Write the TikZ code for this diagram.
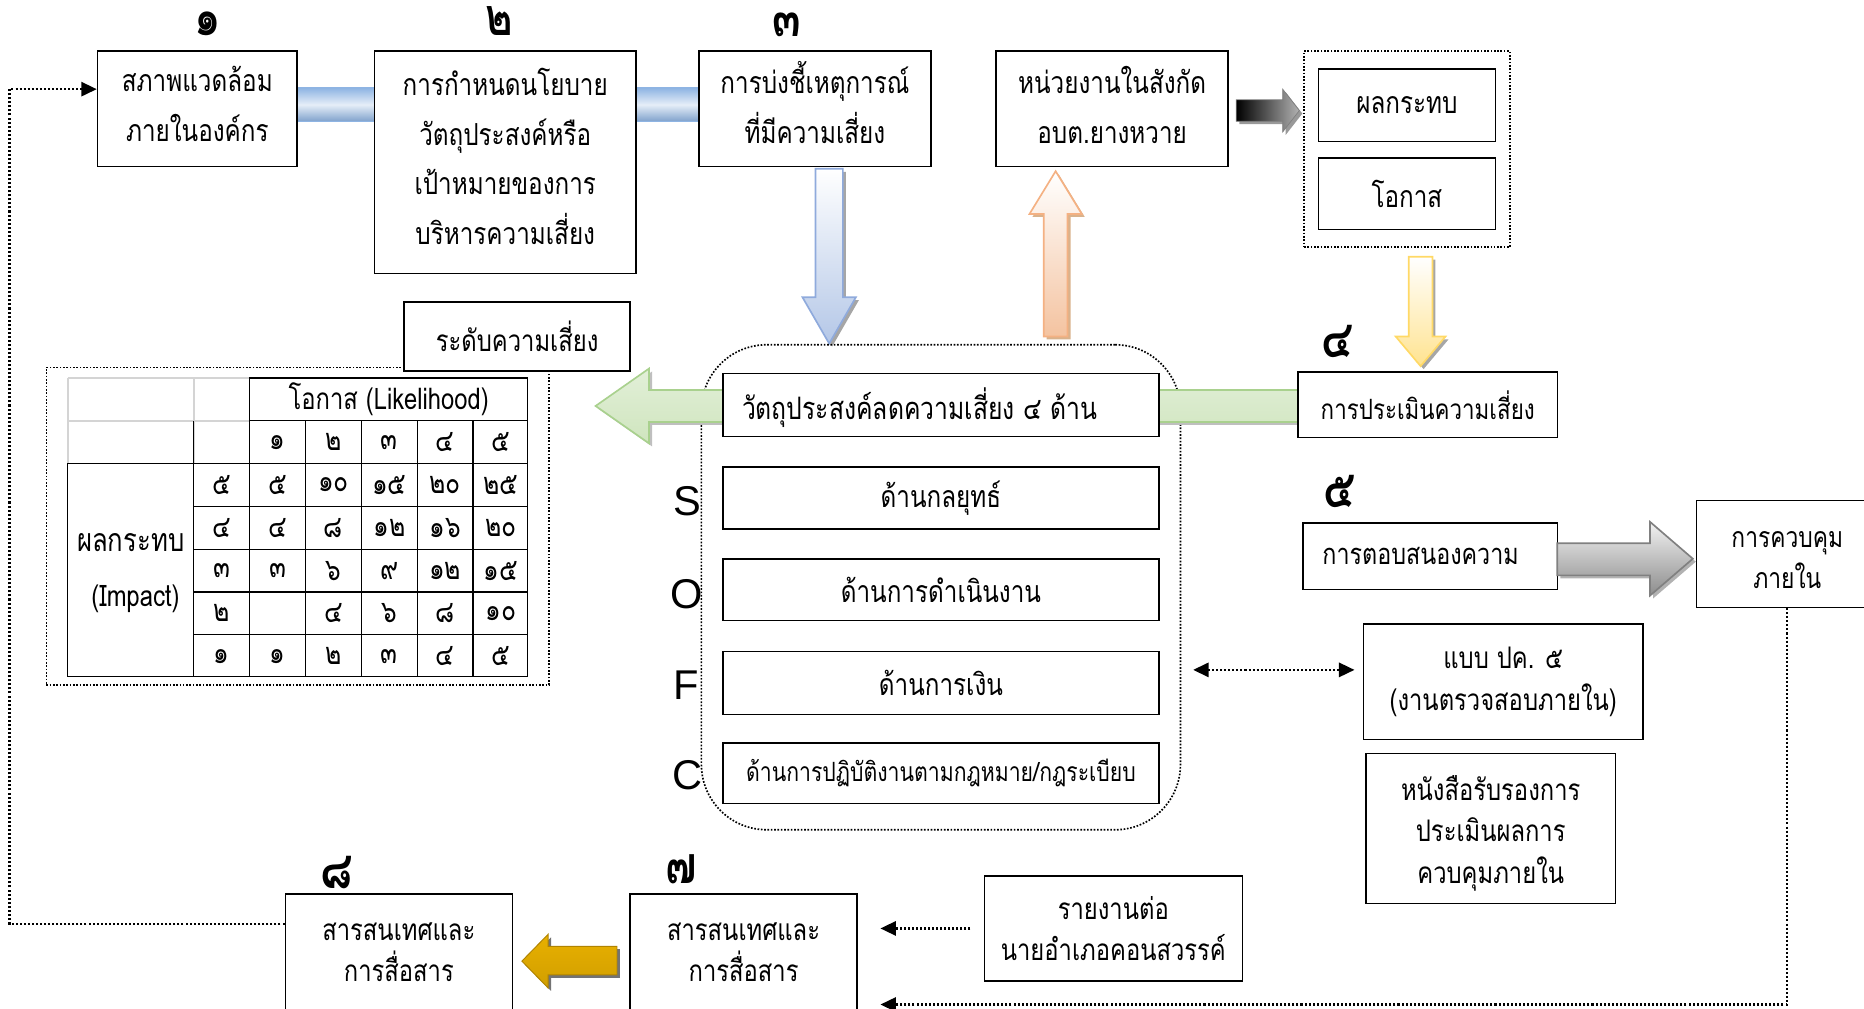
\documentclass[tikz,border=0pt]{standalone}
\usepackage{fontspec}
\setmainfont{Liberation Sans}
\newfontfamily\thai[Script=Thai,FakeStretch=0.8]{Loma}
\usetikzlibrary{arrows.meta,calc}
\definecolor{barE}{HTML}{8EB4E3}
\definecolor{barL}{HTML}{E6EEF8}
\definecolor{blueE}{HTML}{8FAADC}
\definecolor{blueF}{HTML}{B4C7E7}
\definecolor{oraE}{HTML}{F4B183}
\definecolor{oraF}{HTML}{F4C3A0}
\definecolor{yelE}{HTML}{FFD966}
\definecolor{yelF}{HTML}{FFE390}
\definecolor{grnE}{HTML}{A9D18E}
\definecolor{grnF}{HTML}{CFE5BE}
\definecolor{gold1}{HTML}{E8B000}
\definecolor{gold2}{HTML}{FFC60F}
\definecolor{gold3}{HTML}{B08300}
\definecolor{tgray}{HTML}{D4D4D4}
\begin{document}
\begin{tikzpicture}[x=1pt,y=-1pt,
  box/.style={draw=black,line width=1.3pt,fill=white,inner sep=0pt,align=center,
    font=\thai\fontsize{25.5}{42}\selectfont},
  sbox/.style={box,font=\thai\fontsize{25}{35}\selectfont},
  btext/.style={inner sep=0pt,align=center,font=\thai\fontsize{25}{35}\selectfont},
  numlbl/.style={font=\thai\bfseries\fontsize{44}{44}\selectfont,inner sep=0pt},
  letter/.style={font=\fontsize{35}{35}\selectfont,inner sep=0pt},
  dotframe/.style={draw=black,line width=1.4pt,dash pattern=on 1.4pt off 1.4pt},
  dotline/.style={draw=black,line width=1.8pt,dash pattern=on 1.7pt off 1.7pt},
  dotcon/.style={dotline,-{Triangle[length=13pt,width=12pt]}},
  dotboth/.style={dotline,{Triangle[length=13pt,width=12pt]}-{Triangle[length=13pt,width=12pt]}},
  tgrid/.style={draw=tgray,line width=1.6pt},
  tline/.style={draw=black,line width=1.1pt},
  tnum/.style={font=\thai\fontsize{26}{26}\selectfont,inner sep=0pt},
  thead/.style={font=\thai\fontsize{25}{25}\selectfont,inner sep=0pt},
  shad/.style={preaction={fill=#1,transform canvas={shift={(2.5pt,-2.5pt)}}}},
  blkline/.style={line width=1.4pt,line join=miter}
]
\useasboundingbox (0,0) rectangle (1568,848);
\clip (0,0) rectangle (1568,848);

% step numbers
\node[numlbl] (n1) at (175,20) {๑};
\node[numlbl] (n2) at (420,18) {๒};
\node[numlbl] (n3) at (662,21) {๓};
\node[numlbl] (n4) at (1125,287) {๔};
\node[numlbl] (n5) at (1127,413) {๕};
\node[numlbl] (n8) at (283,734) {๘};
\node[numlbl] (n7) at (573,731) {๗};

% light blue bars joining the first three steps
\path[draw=barE,line width=0.8pt,top color=barE,bottom color=barE!90!black,middle color=barL] (245,74) rectangle (320,102);
\path[draw=barE,line width=0.8pt,top color=barE,bottom color=barE!90!black,middle color=barL] (530,74) rectangle (593,102);

% top row of steps
\node[box,text depth=8pt,minimum width=168,minimum height=97] (b1) at (166,91.5) {สภาพแวดล้อม\\ภายในองค์กร};
\node[box,text depth=10pt,minimum width=220,minimum height=187] (b2) at (425,136.5) {การกำหนดนโยบาย\\วัตถุประสงค์หรือ\\เป้าหมายของการ\\บริหารความเสี่ยง};
\node[box,text depth=10pt,minimum width=195,minimum height=97] (b3) at (685.5,91.5) {การบ่งชี้เหตุการณ์\\ที่มีความเสี่ยง};
\node[box,text depth=6pt,minimum width=195,minimum height=97] (b4) at (935.5,91.5) {หน่วยงานในสังกัด\\อบต.ยางหวาย};

% impact and likelihood group
\node[dotframe,minimum width=173,minimum height=165,inner sep=0pt] (grp) at (1183.5,125.5) {};
\node[box,minimum width=149,minimum height=61] (imp) at (1183.5,88.5) {ผลกระทบ};
\node[box,minimum width=149,minimum height=60] (lik) at (1183.5,163) {โอกาส};

% dark arrow into the group
\path[shad=black!40,left color=black,right color=black!30,draw=black!50,line width=0.6pt]
  (1040,84) -- (1079,84) -- (1079,75) -- (1093,93) -- (1079,111) -- (1079,102) -- (1040,102) -- cycle;

% yellow arrow down to the assessment
\path[shad=black!35,blkline,draw=yelE,top color=white,bottom color=yelF]
  (1185,216) -- (1205,216) -- (1205,283) -- (1216,283) -- (1195,308) -- (1174,283) -- (1185,283) -- cycle;

% blue arrow down from step 3
\path[shad=black!35,blkline,draw=blueE,top color=white,bottom color=blueF]
  (686,142) -- (709,142) -- (709,250) -- (720,250) -- (697.5,289) -- (675,250) -- (686,250) -- cycle;

% orange arrow up to the sub-units
\path[shad=brown!60,blkline,draw=oraE,top color=white,bottom color=oraF]
  (878,283) -- (898,283) -- (898,180) -- (910,180) -- (888,144) -- (866,180) -- (878,180) -- cycle;

% risk-level matrix
\node[dotframe,minimum width=423,minimum height=267,inner sep=0pt] (mat) at (250.5,442.5) {};
\node[box,minimum width=190,minimum height=58,font=\thai\fontsize{25}{25}\selectfont] (lvl) at (435,283) {ระดับความเสี่ยง};
\foreach \x in {57,163} \draw[tgrid] (\x,318) -- (\x,390);
\foreach \y in {318,354} \draw[tgrid] (57,\y) -- (210,\y);
\draw[tline] (210,318) rectangle (444,569);
\draw[tline] (57,390) rectangle (444,569);
\draw[tline] (210,354) -- (444,354);
\foreach \y in {390,426,462,498,534} \draw[tline] (163,\y) -- (444,\y);
\foreach \x in {163,210,257,304,351,398} \draw[tline] (\x,354) -- (\x,569);
\draw[tline] (163,390) -- (163,569);
\node[thead] (likh) at (327,336) {โอกาส (Likelihood)};
\node[thead,font=\thai\fontsize{27}{27}\selectfont] (imph) at (110,456) {ผลกระทบ};
\node[thead] (impe) at (114,504) {(Impact)};
\foreach \v [count=\i] in {๑,๒,๓,๔,๕} \node[tnum] (mh\i) at ({186.5+47*\i},372) {\v};
\foreach \v [count=\i] in {๕,๔,๓,๒,๑} \node[tnum] (mr\i) at (186.5,{372+36*\i}) {\v};
\foreach \v [count=\i] in {๕,๑๐,๑๕,๒๐,๒๕} \node[tnum] (ma\i) at ({186.5+47*\i},408) {\v};
\foreach \v [count=\i] in {๔,๘,๑๒,๑๖,๒๐} \node[tnum] (mb\i) at ({186.5+47*\i},444) {\v};
\foreach \v [count=\i] in {๓,๖,๙,๑๒,๑๕} \node[tnum] (mc\i) at ({186.5+47*\i},480) {\v};
\foreach \v/\x in {๔/280.5,๖/327.5,๘/374.5,๑๐/421.5} \node[tnum] (md\x) at (\x,516) {\v};
\foreach \v [count=\i] in {๑,๒,๓,๔,๕} \node[tnum] (me\i) at ({186.5+47*\i},552) {\v};

% four risk objectives
\node[dotframe,rounded corners=55pt,minimum width=403,minimum height=408,inner sep=0pt] (cont) at (791.5,494) {};
\path[shad=black!25,blkline,draw=grnE,top color=grnF!60!white,bottom color=grnF]
  (1092,328) -- (546,328) -- (546,310) -- (501,341.5) -- (546,373) -- (546,355) -- (1092,355) -- cycle;
\node[box,minimum width=367,minimum height=53] (obj) at (791.5,340.5) {};
\node[anchor=west,inner sep=0pt,font=\thai\fontsize{26}{26}\selectfont] (objt) at (624,343) {วัตถุประสงค์ลดความเสี่ยง ๔ ด้าน};
\node[box,minimum width=367,minimum height=52] (s1) at (791.5,419) {ด้านกลยุทธ์};
\node[box,minimum width=367,minimum height=52] (s2) at (791.5,496) {ด้านการดำเนินงาน};
\node[box,minimum width=367,minimum height=53] (s3) at (791.5,574.5) {ด้านการเงิน};
\node[box,minimum width=367,minimum height=51,font=\thai\fontsize{22.3}{22.3}\selectfont] (s4) at (791.5,650.5) {ด้านการปฏิบัติงานตามกฎหมาย/กฎระเบียบ};
\node[letter] (lS) at (578,422) {S};
\node[letter] (lO) at (578,500) {O};
\node[letter] (lF) at (577,576) {F};
\node[letter] (lC) at (578,652) {C};

% assessment and response
\node[box,minimum width=218,minimum height=55,font=\thai\fontsize{23.5}{23.5}\selectfont] (ass) at (1201,340.5) {การประเมินความเสี่ยง};
\node[box,minimum width=214,minimum height=56,font=\thai\fontsize{24.5}{24.5}\selectfont] (resp) at (1203,468) {\makebox[0pt]{\hspace*{-16pt}การตอบสนองความ}};
\path[shad=black!30,blkline,draw=black!50,top color=black!5,bottom color=black!45]
  (1310,457) -- (1388,457) -- (1388,439) -- (1424,470) -- (1388,501) -- (1388,484) -- (1310,484) -- cycle;
\node[box,minimum width=153,minimum height=90] (ctl) at (1503.5,466) {};
\node[btext,font=\thai\fontsize{24}{35}\selectfont] (ctlT) at (1503.5,471) {การควบคุม\\ภายใน};
\node[sbox,minimum width=235,minimum height=97] (pk) at (1264.5,573.5) {แบบ ปค. ๕\\(งานตรวจสอบภายใน)};
\node[box,minimum width=210,minimum height=126] (cert) at (1254,697) {};
\node[btext] (certT) at (1254,701) {หนังสือรับรองการ\\ประเมินผลการ\\ควบคุมภายใน};

% reporting and communication
\node[sbox,minimum width=217,minimum height=88] (rep) at (936.5,781) {รายงานต่อ\\นายอำเภอคอนสวรรค์};
\node[sbox,minimum width=191,minimum height=98] (b7) at (625.5,801) {สารสนเทศและ\\การสื่อสาร};
\node[sbox,minimum width=191,minimum height=98] (b8) at (335.5,801) {สารสนเทศและ\\การสื่อสาร};
\path[shad=black!55,line width=0.8pt,line join=miter,draw=gold3,top color=gold1,middle color=gold2,bottom color=gold1!90!black]
  (519,796) -- (461,796) -- (461,786) -- (439,808.5) -- (461,831) -- (461,820) -- (519,820) -- cycle;

% dotted connectors
\coordinate (loopTop) at (8,75);
\coordinate (bottomRun) at (1507,845);
\draw[dotcon] ([yshift=24pt]b8.west) -| (loopTop) -- (b1.west |- loopTop);
\draw[dotcon,shorten >=19pt] (ctl.south) |- (b7.east |- bottomRun);
\draw[dotcon,shorten <=11pt,shorten >=19pt] (rep.west) -- (b7.east |- rep.west);
\coordinate (pkIn) at ([yshift=10pt]pk.west);
\draw[dotboth,shorten <=10pt,shorten >=7pt] (cont.east |- pkIn) -- (pkIn);
\end{tikzpicture}
\end{document}
